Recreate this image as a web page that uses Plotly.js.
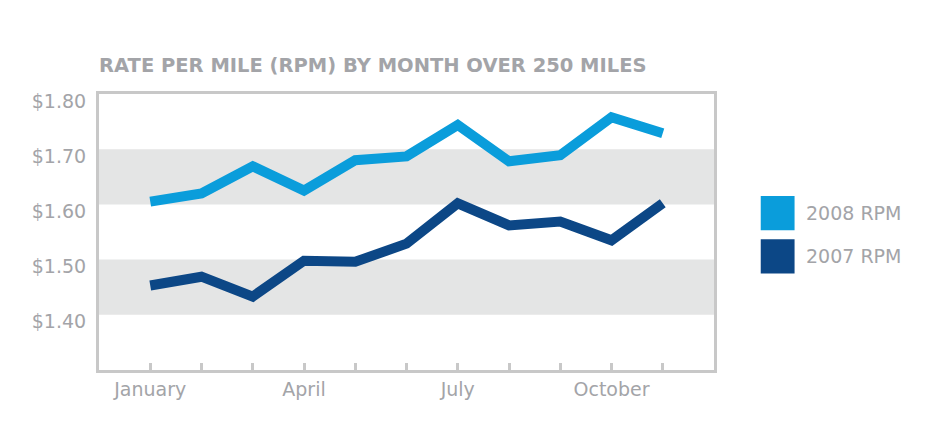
<!DOCTYPE html>
<html>
<head>
<meta charset="utf-8">
<script src="https://cdn.plot.ly/plotly-3.0.1.min.js"></script>
<style>html,body{margin:0;padding:0;background:#fff;}#chart{width:934px;height:436px;}</style>
</head>
<body>
<div id="chart"></div>
<script>
const months = ['January','February','March','April','May','June','July','August','September','October','November'];
const tickLabels = ['January','','','April','','','July','','','October',''];
const rpm2008 = [1.605, 1.620, 1.669, 1.625, 1.680, 1.687, 1.744, 1.678, 1.689, 1.758, 1.729];
const rpm2007 = [1.453, 1.469, 1.433, 1.498, 1.496, 1.529, 1.602, 1.562, 1.569, 1.535, 1.602];
const seriesNames = ['2008 RPM', '2007 RPM'];
const seriesColors = ['#0a9ddb', '#0c4786'];
const bands = [[1.4, 1.5], [1.6, 1.7]];
const yTickVals = [1.4, 1.5, 1.6, 1.7, 1.8];
const yTickText = ['$1.40', '$1.50', '$1.60', '$1.70', '$1.80'];

const gray = '#a3a4a8';
const font = '"DejaVu Sans", sans-serif';

const traces = [rpm2008, rpm2007].map((vals, i) => ({
  type: 'scatter', mode: 'lines', x: months, y: vals, name: seriesNames[i],
  line: {color: seriesColors[i], width: 10}, showlegend: false, hoverinfo: 'x+y'
}));

const shapes = bands.map(b => ({
  type: 'rect', xref: 'paper', yref: 'y', x0: 0, x1: 1, y0: b[0], y1: b[1],
  fillcolor: '#e4e5e5', line: {width: 0}, layer: 'below'
}));
// legend swatches
const annotations = [];
seriesNames.forEach((n, i) => {
  shapes.push({
    type: 'rect', xref: 'paper', yref: 'paper',
    x0: 1.076, x1: 1.131, y0: 0.506 - i * 0.156, y1: 0.63 - i * 0.156,
    fillcolor: seriesColors[i], line: {width: 0}
  });
  annotations.push({
    xref: 'paper', yref: 'paper', x: 1.146, y: 0.568 - i * 0.156,
    xanchor: 'left', yanchor: 'middle', showarrow: false, text: n,
    font: {family: font, size: 19, color: gray}
  });
});

const layout = {
  width: 934, height: 436,
  margin: {l: 99, r: 220, t: 94, b: 66},
  paper_bgcolor: '#fff', plot_bgcolor: 'rgba(0,0,0,0)',
  title: {
    text: '<b>RATE PER MILE (RPM) BY MONTH OVER 250 MILES</b>',
    x: 99 / 934, xanchor: 'left', xref: 'container',
    y: 1 - 65 / 436, yanchor: 'middle', yref: 'container',
    font: {family: font, size: 19.5, color: gray}
  },
  xaxis: {
    type: 'category', range: [-1, 11], tickvals: months, ticktext: tickLabels,
    ticks: 'inside', ticklen: 7, tickwidth: 3, tickcolor: '#c8c8c8',
    showline: true, linecolor: '#c8c8c8', linewidth: 3, mirror: true,
    showgrid: false, zeroline: false,
    tickfont: {family: font, size: 19, color: gray}
  },
  yaxis: {
    range: [1.3, 1.8], tickvals: yTickVals, ticktext: yTickText, ticks: '',
    ticklabelshift: 7, ticklabelstandoff: 6,
    showline: true, linecolor: '#c8c8c8', linewidth: 3, mirror: true,
    showgrid: false, zeroline: false,
    tickfont: {family: font, size: 19, color: gray}
  },
  shapes: shapes,
  annotations: annotations,
  showlegend: false
};

Plotly.newPlot('chart', traces, layout, {displayModeBar: false, staticPlot: true});
</script>
</body>
</html>
